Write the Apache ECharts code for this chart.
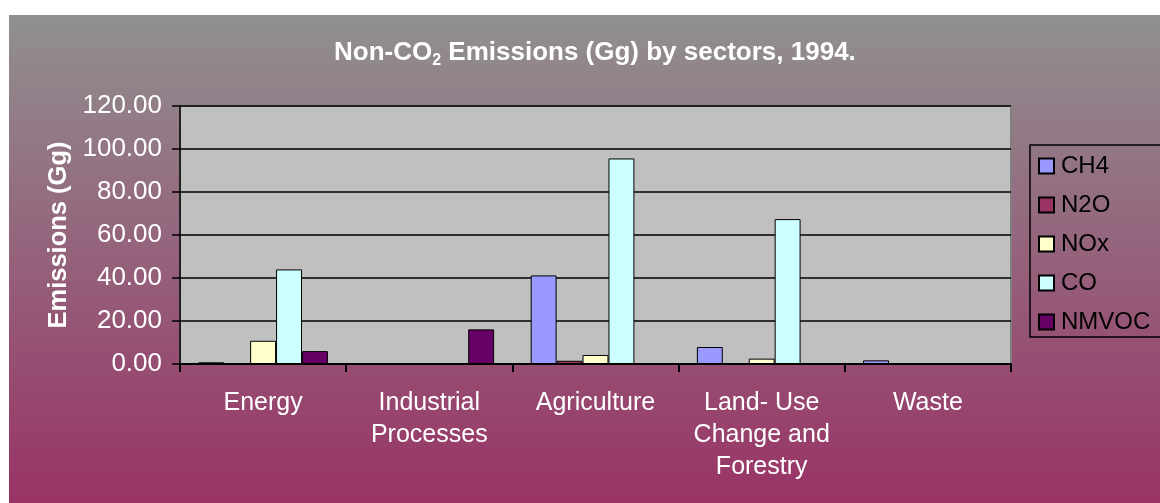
<!DOCTYPE html>
<html>
<head>
<meta charset="utf-8">
<script src="https://cdn.jsdelivr.net/npm/echarts@6/dist/echarts.min.js"></script>
<style>
  html, body { margin: 0; padding: 0; background: #fff; }
  #chart { position: absolute; left: 9px; top: 15px; width: 1151px; height: 488px; }
</style>
</head>
<body>
<div id="chart"></div>
<script>
// sectors on the x axis
const sectors = ['Energy', 'Industrial\nProcesses', 'Agriculture', 'Land- Use\nChange and\nForestry', 'Waste']
// emissions in Gg, one array per gas
const ch4 = [0.8, 0, 41.2, 7.9, 1.7]
const n2o = [0, 0, 1.5, 0, 0]
const nox = [10.8, 0, 4.2, 2.5, 0]
const co = [44.0, 0, 95.6, 67.4, 0]
const nmvoc = [6.0, 16.1, 0, 0, 0]
const yTicks = { min: 0, max: 120, step: 20 }

const font = 'Arial, "Liberation Sans", sans-serif'
const chart = echarts.init(document.getElementById('chart'))

function bar(name, data, color) {
  return {
    name: name,
    type: 'bar',
    data: data,
    barGap: 0,
    barCategoryGap: '22%',
    itemStyle: { color: color, borderColor: '#000', borderWidth: 1 }
  }
}

chart.setOption({
  backgroundColor: {
    type: 'linear', x: 0, y: 0, x2: 0, y2: 1,
    colorStops: [{ offset: 0, color: '#909090' }, { offset: 1, color: '#993366' }]
  },
  textStyle: { fontFamily: font },
  title: {
    text: '{a|Non-CO}{s|2}{a| Emissions (Gg) by sectors, 1994.}',
    left: 320,
    top: 17,
    textStyle: {
      rich: {
        a: { fontSize: 26, fontWeight: 'bold', color: '#fff', fontFamily: font, lineHeight: 32 },
        s: { fontSize: 16, fontWeight: 'bold', color: '#fff', fontFamily: font, lineHeight: 16, verticalAlign: 'bottom' }
      }
    }
  },
  legend: {
    orient: 'vertical',
    left: 1021,
    top: 130,
    padding: [9, 40, 3, 8],
    itemGap: 15,
    itemWidth: 15,
    itemHeight: 15,
    borderColor: '#000',
    borderWidth: 1.5,
    icon: 'rect',
    textStyle: { fontSize: 24, color: '#000', fontFamily: font, padding: [0, 0, 0, 2] }
  },
  grid: {
    left: 171, top: 91, width: 831, height: 258,
    show: true, backgroundColor: '#c0c0c0', borderColor: '#808080', borderWidth: 2
  },
  xAxis: {
    type: 'category',
    data: sectors,
    axisLine: { lineStyle: { color: '#000', width: 2 } },
    axisTick: { show: true, length: 8, lineStyle: { color: '#000', width: 2 } },
    axisLabel: { color: '#fff', fontSize: 25, lineHeight: 32, margin: 23, interval: 0, fontFamily: font }
  },
  yAxis: {
    type: 'value',
    min: yTicks.min,
    max: yTicks.max,
    interval: yTicks.step,
    name: 'Emissions (Gg)',
    nameLocation: 'middle',
    nameGap: 107,
    nameTextStyle: { color: '#fff', fontSize: 25.5, fontWeight: 'bold', fontFamily: font },
    axisLine: { show: true, lineStyle: { color: '#000', width: 1.5 } },
    axisTick: { show: true, length: 8, lineStyle: { color: '#000', width: 1.5 } },
    axisLabel: { color: '#fff', fontSize: 26, margin: 18, fontFamily: font, formatter: v => v.toFixed(2) },
    splitLine: { lineStyle: { color: '#000', width: 1.5 } }
  },
  series: [
    bar('CH4', ch4, '#9999ff'),
    bar('N2O', n2o, '#993366'),
    bar('NOx', nox, '#ffffcc'),
    bar('CO', co, '#ccffff'),
    bar('NMVOC', nmvoc, '#660066')
  ]
})
</script>
</body>
</html>
